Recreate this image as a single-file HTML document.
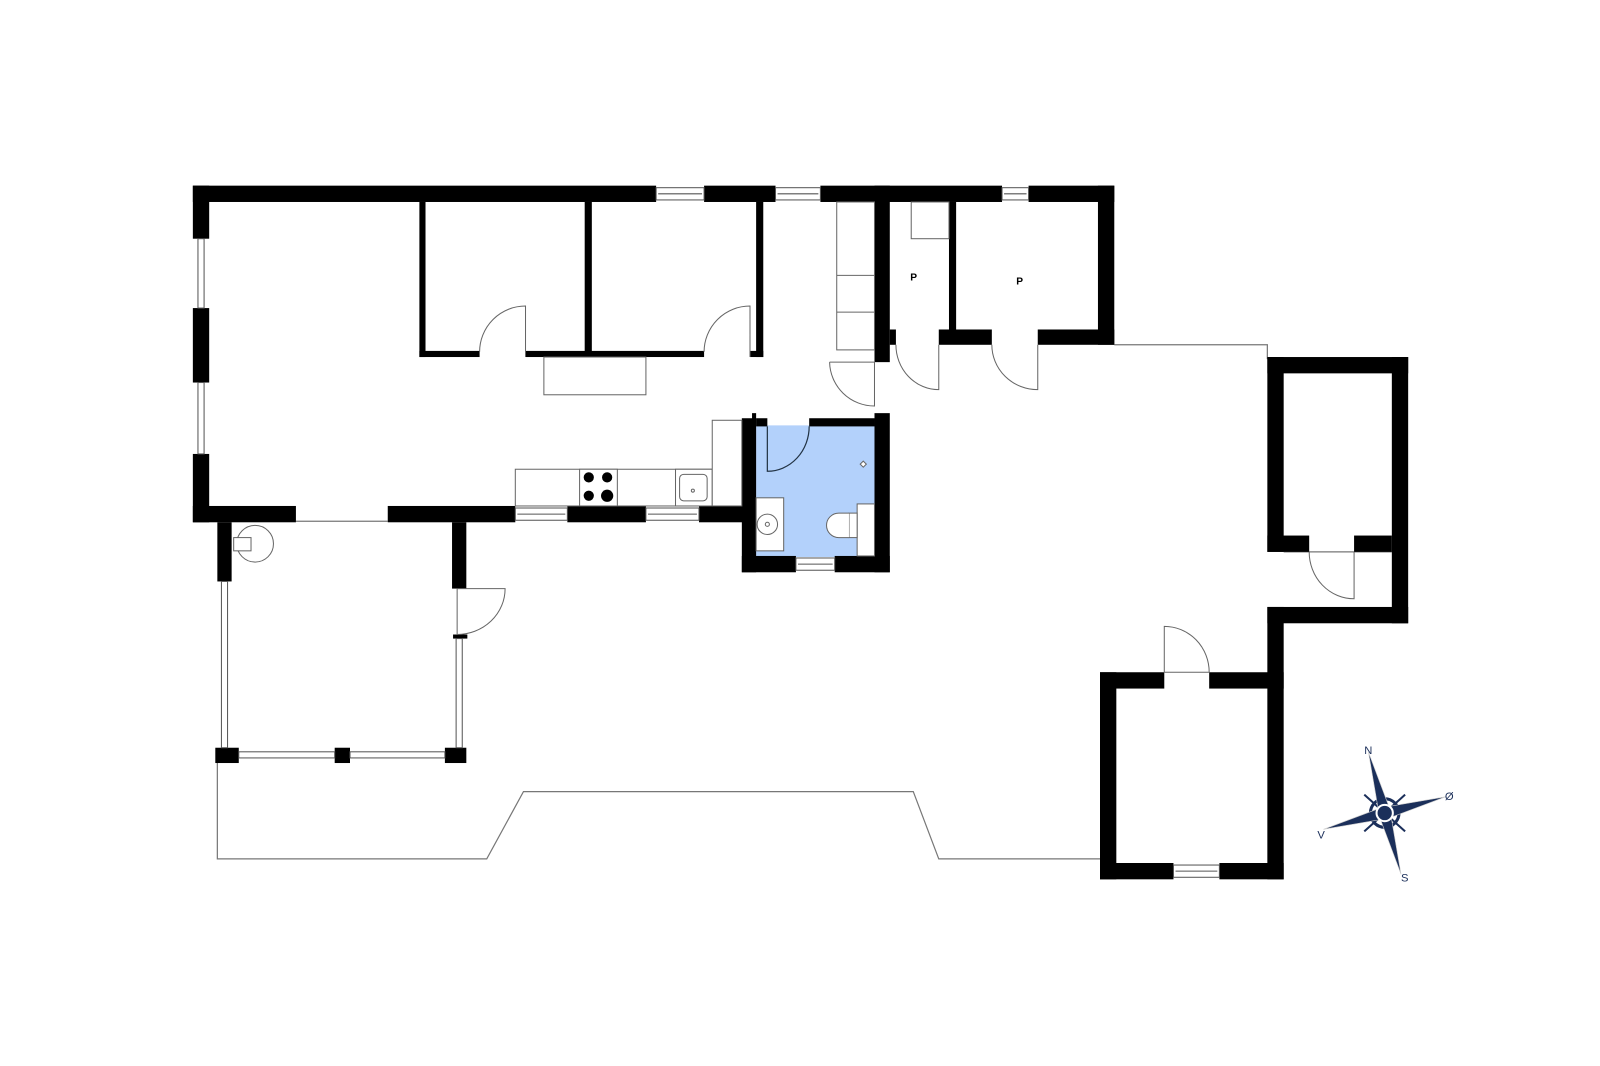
<!DOCTYPE html>
<html><head><meta charset="utf-8"><style>html,body{margin:0;padding:0;background:#fff}svg{display:block}</style></head>
<body>
<svg width="1600" height="1066" viewBox="0 0 1568 1045" preserveAspectRatio="none" xmlns="http://www.w3.org/2000/svg">
<rect width="1568" height="1045" fill="#fff"/>
<!-- terrace outline -->
<g fill="none" stroke="#777" stroke-width="1.2">
<polyline points="1078,842 920,842 895,776 513,776 477,842 213,842 213,745"/>
<polyline points="1092,338 1242,338 1242,352"/>
<line x1="290" y1="511" x2="380" y2="511"/>
<line x1="1258" y1="541" x2="1364" y2="541"/>
</g>
<!-- bathroom fill -->
<rect x="741" y="417" width="116" height="129" fill="#b3d1fb"/>
<g fill="#000">
<!-- top wall -->
<rect x="189" y="182" width="454" height="16"/>
<rect x="690" y="182" width="70" height="16"/>
<rect x="804" y="182" width="178" height="16"/>
<rect x="1008" y="182" width="84" height="16"/>
<!-- left wall -->
<rect x="189" y="182" width="16" height="52"/>
<rect x="189" y="302" width="16" height="73"/>
<rect x="189" y="445" width="16" height="67"/>
<!-- bottom wall main -->
<rect x="189" y="496" width="101" height="16"/>
<rect x="380" y="496" width="125" height="16"/>
<rect x="556" y="496" width="77" height="16"/>
<rect x="685" y="496" width="56" height="16"/>
<!-- bedroom walls -->
<rect x="411" y="198" width="6" height="152"/>
<rect x="411" y="344" width="59" height="6"/>
<rect x="515" y="344" width="175" height="6"/>
<rect x="573" y="198" width="7" height="152"/>
<rect x="735" y="344" width="13" height="6"/>
<rect x="741" y="198" width="7" height="152"/>
<!-- hall walls -->
<rect x="857" y="182" width="15" height="173"/>
<rect x="857" y="405" width="15" height="156"/>
<!-- bathroom walls -->
<rect x="737" y="405" width="4" height="12"/>
<rect x="727" y="410" width="14" height="151"/>
<rect x="741" y="410" width="11" height="8"/>
<rect x="793" y="410" width="64" height="8"/>
<rect x="727" y="545" width="53" height="16"/>
<rect x="818" y="545" width="54" height="16"/>
<!-- storage rooms -->
<rect x="930" y="198" width="7" height="127"/>
<rect x="872" y="323" width="6" height="15"/>
<rect x="920" y="323" width="52" height="15"/>
<rect x="1017" y="323" width="75" height="15"/>
<rect x="1076" y="182" width="16" height="156"/>
<!-- right shed -->
<rect x="1242" y="350" width="138" height="16"/>
<rect x="1242" y="350" width="16" height="191"/>
<rect x="1364" y="350" width="16" height="261"/>
<rect x="1242" y="525" width="41" height="16"/>
<rect x="1327" y="525" width="37" height="16"/>
<rect x="1242" y="595" width="138" height="16"/>
<rect x="1242" y="595" width="16" height="267"/>
<!-- shed 2 -->
<rect x="1078" y="659" width="63" height="16"/>
<rect x="1185" y="659" width="73" height="16"/>
<rect x="1078" y="659" width="16" height="203"/>
<rect x="1078" y="846" width="72" height="16"/>
<rect x="1195" y="846" width="63" height="16"/>
<!-- porch -->
<rect x="213" y="512" width="14" height="58"/>
<rect x="443" y="512" width="14" height="65"/>
<rect x="444" y="622" width="14" height="4"/>
<rect x="211" y="733" width="23" height="15"/>
<rect x="328" y="733" width="15" height="15"/>
<rect x="436" y="733" width="21" height="15"/>
</g>
<!-- windows -->
<g fill="#fff" stroke="#555" stroke-width="1">
<rect x="643" y="184" width="47" height="12"/><line x1="645" y1="190" x2="688" y2="190"/>
<rect x="760" y="184" width="44" height="12"/><line x1="762" y1="190" x2="802" y2="190"/>
<rect x="982" y="184" width="26" height="12"/><line x1="984" y1="190" x2="1006" y2="190"/>
<rect x="194" y="234" width="6" height="68"/>
<rect x="194" y="375" width="6" height="70"/>
<rect x="505" y="498" width="51" height="12"/><line x1="507" y1="504" x2="554" y2="504"/>
<rect x="633" y="498" width="52" height="12"/><line x1="635" y1="504" x2="683" y2="504"/>
<rect x="780" y="547" width="38" height="12"/><line x1="782" y1="553" x2="816" y2="553"/>
<rect x="1150" y="848" width="45" height="12"/><line x1="1152" y1="854" x2="1193" y2="854"/>
<rect x="217" y="570" width="6" height="163"/>
<rect x="447" y="626" width="6" height="107"/>
<rect x="234" y="737" width="94" height="6"/>
<rect x="343" y="737" width="93" height="6"/>
</g>
<!-- furniture -->
<g fill="#fff" stroke="#666" stroke-width="1">
<rect x="533" y="350" width="100" height="37"/>
<rect x="820" y="198" width="37" height="145"/><line x1="820" y1="270" x2="857" y2="270"/><line x1="820" y1="306" x2="857" y2="306"/>
<rect x="893" y="198" width="37" height="36"/>
<rect x="505" y="460" width="193" height="36"/>
<rect x="568" y="460" width="37" height="36"/>
<rect x="662" y="460" width="36" height="36"/>
<rect x="666" y="465" width="27" height="26" rx="4"/>
<circle cx="679" cy="481" r="1.5"/>
<rect x="698" y="412" width="29" height="84"/>
<circle cx="250" cy="533" r="18"/>
<rect x="229" y="527" width="17" height="13"/>
<rect x="741" y="488" width="27" height="52"/>
<circle cx="752" cy="514" r="10"/><circle cx="752" cy="514" r="2"/>
<rect x="840" y="494" width="17" height="51"/>
<rect x="832" y="503" width="8" height="24"/>
<path d="M832,503 H822 A12,12 0 0 0 822,527 H832"/>
<path d="M846,452 l3,3 l-3,3 l-3,-3 z"/>
</g>
<g fill="#000">
<circle cx="577" cy="468" r="5"/><circle cx="595" cy="468" r="5"/>
<circle cx="577" cy="486" r="5"/><circle cx="595" cy="486" r="6"/>
</g>
<!-- doors -->
<g fill="none" stroke="#666" stroke-width="1">
<path d="M515,350 V300 A45,45 0 0 0 470,345"/>
<path d="M735,350 V300 A45,45 0 0 0 690,345"/>
<path d="M813,355 H857 V398 A44,44 0 0 1 813,355"/>
<path d="M878,338 A42,44 0 0 0 920,382 V338"/>
<path d="M972,338 A45,44 0 0 0 1017,382 V338"/>
<path d="M1283,541 A44,46 0 0 0 1327,587 V541"/>
<path d="M1141,659 V614 A44,45 0 0 1 1185,659 Z"/>
<path d="M448,577 H495 A47,45 0 0 1 448,622 Z"/>
</g>
<path d="M793,418 A41,44 0 0 1 752,462 V418" fill="none" stroke="#234" stroke-width="1.2"/>
<g font-family="Liberation Sans, sans-serif" font-size="10" font-weight="bold" fill="#000">
<text x="892" y="275">P</text><text x="996" y="279">P</text>
</g>
<!-- compass -->
<g transform="translate(1357,797)">
<circle r="14" fill="none" stroke="#1b2f5a" stroke-width="3"/>
<g stroke="#1b2f5a" stroke-width="2"><line x1="-20" y1="-18" x2="20" y2="18"/><line x1="20" y1="-18" x2="-20" y2="18"/></g>
<g fill="#1b2f5a" stroke="#ccc" stroke-width="0.6">
<polygon points="-16,-60 5,-4 -5,4"/><polygon points="16,60 -5,4 5,-4"/>
<polygon points="60,-16 4,5 -4,-5"/><polygon points="-60,16 -4,-5 4,5"/>
</g>
<circle r="8" fill="#1b2f5a" stroke="#fff" stroke-width="2"/>
</g>
<g font-family="Liberation Sans, sans-serif" font-size="11" fill="#1b2f5a">
<text x="1337" y="739">N</text><text x="1416" y="784">Ø</text>
<text x="1291" y="822">V</text><text x="1373" y="864">S</text>
</g>
</svg>
</body></html>
